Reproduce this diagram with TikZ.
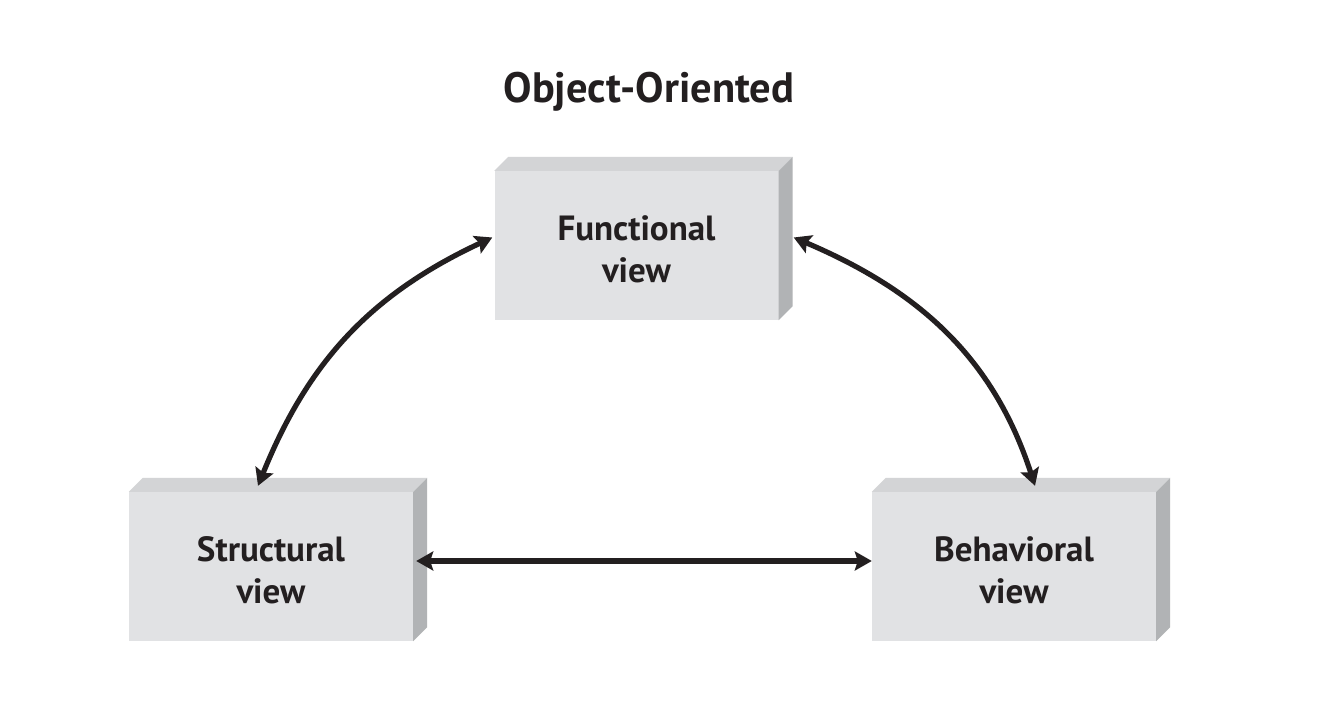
\documentclass[tikz,border=0pt]{standalone}
\usepackage{fontspec}
\setmainfont{PT Sans}
\usetikzlibrary{arrows.meta}
\definecolor{frontc}{HTML}{E1E2E4}
\definecolor{topc}{HTML}{D3D4D6}
\definecolor{sidec}{HTML}{B1B3B5}
\definecolor{inkc}{HTML}{231F20}
\tikzset{
  viewbox/.style={fill=frontc, draw=none, minimum width=284pt, minimum height=149pt, inner sep=0pt},
  viewlabel/.style={inner sep=0pt, align=center, font=\fontsize{35}{42}\selectfont\bfseries, text=inkc},
  link/.style={draw=inkc, line width=5.2pt, {Stealth[length=17pt,width=19pt,inset=3pt]}-{Stealth[length=17pt,width=19pt,inset=3pt]}},
}
\newcommand{\boxfaces}[1]{%
  \fill[topc] (#1.north west) -- ++(14pt,14pt) -- ([shift={(14pt,14pt)}]#1.north east) -- (#1.north east) -- cycle;
  \fill[sidec] (#1.north east) -- ++(14pt,14pt) -- ([shift={(14pt,14pt)}]#1.south east) -- (#1.south east) -- cycle;
}
\begin{document}
\begin{tikzpicture}[x=1pt,y=1pt]
\useasboundingbox (0,0) rectangle (1322,712);
\fill[white] (0,0) rectangle (1322,712);
\node[font=\fontsize{42.5}{50}\selectfont\bfseries, text=inkc, anchor=base] (title) at (649,609) {Object-Oriented};
\node[viewbox] (F) at (636.5,466.5) {};
\node[viewbox] (S) at (271,145.5) {};
\node[viewbox] (B) at (1014,145.5) {};
\boxfaces{F}
\boxfaces{S}
\boxfaces{B}
\node[viewlabel] (Ft) at ([yshift=-4pt]F.center) {Functional\\view};
\node[viewlabel] (St) at ([yshift=-4pt]S.center) {Structural\\view};
\node[viewlabel] (Bt) at ([yshift=-4pt]B.center) {Behavioral\\view};
\draw[link] ([xshift=-13pt,yshift=6pt]S.north) to[out=68,in=205] ([xshift=-2pt,yshift=8pt]F.west);
\draw[link] ([xshift=15pt,yshift=8pt]F.east) to[out=-23,in=108] ([xshift=21pt,yshift=6pt]B.north);
\draw[link] ([xshift=3pt,yshift=5.5pt]S.east) -- ([yshift=5.5pt]B.west);
\end{tikzpicture}
\end{document}
